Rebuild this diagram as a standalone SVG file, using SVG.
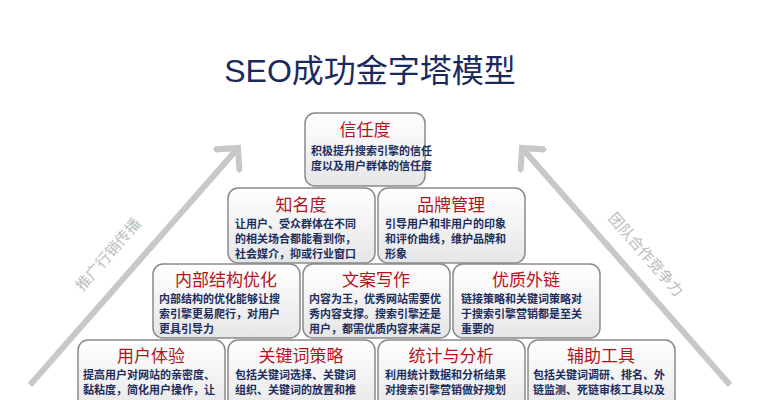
<svg xmlns="http://www.w3.org/2000/svg" width="761" height="400" viewBox="0 0 761 400">
<style>
.b{fill:url(#g);stroke:#8a8a8a;stroke-width:1.5}
.h{font-family:"Noto Sans CJK SC",sans-serif;font-size:17px;fill:#b5141c;text-anchor:middle}
.t{font-family:"Noto Sans CJK SC",sans-serif;font-size:11px;font-weight:bold;fill:#1c2d5e}
.a{font-family:"Noto Sans CJK SC",sans-serif;font-size:15px;fill:#bdbdbd;text-anchor:middle}
</style>
<defs>
<linearGradient id="g" x1="0" y1="0" x2="0" y2="1"><stop offset="0" stop-color="#ffffff"/><stop offset="1" stop-color="#e6e6e6"/></linearGradient>
<marker id="m" markerWidth="6" markerHeight="6" refX="3" refY="3" orient="auto" markerUnits="strokeWidth"><path d="M0,0 L3,3 L0,6" fill="none" stroke="#c8c8c8" stroke-width="1"/></marker>
</defs>
<rect width="761" height="400" fill="#fff"/>
<text x="370" y="82" font-family="'Liberation Sans','Noto Sans CJK SC',sans-serif" font-size="32" fill="#1b2a5c" text-anchor="middle">SEO成功金字塔模型</text>
<g id="connectors" stroke="#c8c8c8" stroke-width="6" fill="none">
<path d="M30,385 L238,148" marker-end="url(#m)"/>
<path d="M730,385 L522,148" marker-end="url(#m)"/>
</g>
<text class="a" transform="translate(112,258) rotate(-49)">推广行销传播</text>
<text class="a" transform="translate(642,258) rotate(49)">团队合作竞争力</text>
<g id="n1"><rect class="b" x="305" y="113" width="120" height="73" rx="10"/><text class="h" x="365" y="136">信任度</text><text class="t" x="311" y="155">积极提升搜索引擎的信任</text><text class="t" x="311" y="170">度以及用户群体的信任度</text></g>
<g id="n2"><rect class="b" x="228" y="188" width="147" height="75" rx="10"/><text class="h" x="301" y="211">知名度</text><text class="t" x="235" y="228">让用户、受众群体在不同</text><text class="t" x="235" y="243">的相关场合都能看到你，</text><text class="t" x="235" y="258">社会媒介，抑或行业窗口</text></g>
<g id="n3"><rect class="b" x="378" y="188" width="147" height="75" rx="10"/><text class="h" x="451" y="211">品牌管理</text><text class="t" x="385" y="228">引导用户和非用户的印象</text><text class="t" x="385" y="243">和评价曲线，维护品牌和</text><text class="t" x="385" y="258">形象</text></g>
<g id="n4"><rect class="b" x="153" y="264" width="147" height="74" rx="10"/><text class="h" x="226" y="286">内部结构优化</text><text class="t" x="159" y="303">内部结构的优化能够让搜</text><text class="t" x="159" y="318">索引擎更易爬行，对用户</text><text class="t" x="159" y="333">更具引导力</text></g>
<g id="n5"><rect class="b" x="303" y="264" width="147" height="74" rx="10"/><text class="h" x="376" y="286">文案写作</text><text class="t" x="309" y="303">内容为王，优秀网站需要优</text><text class="t" x="309" y="318">秀内容支撑。搜索引擎还是</text><text class="t" x="309" y="333">用户，都需优质内容来满足</text></g>
<g id="n6"><rect class="b" x="453" y="264" width="147" height="74" rx="10"/><text class="h" x="526" y="286">优质外链</text><text class="t" x="461" y="303">链接策略和关键词策略对</text><text class="t" x="461" y="318">于搜索引擎营销都是至关</text><text class="t" x="461" y="333">重要的</text></g>
<g id="n7"><rect class="b" x="78" y="340" width="147" height="75" rx="10"/><text class="h" x="151" y="362">用户体验</text><text class="t" x="83" y="379">提高用户对网站的亲密度、</text><text class="t" x="83" y="394">黏粘度，简化用户操作，让</text></g>
<g id="n8"><rect class="b" x="228" y="340" width="147" height="75" rx="10"/><text class="h" x="301" y="362">关键词策略</text><text class="t" x="235" y="379">包括关键词选择、关键词</text><text class="t" x="235" y="394">组织、关键词的放置和推</text></g>
<g id="n9"><rect class="b" x="378" y="340" width="147" height="75" rx="10"/><text class="h" x="451" y="362">统计与分析</text><text class="t" x="385" y="379">利用统计数据和分析结果</text><text class="t" x="385" y="394">对搜索引擎营销做好规划</text></g>
<g id="n10"><rect class="b" x="528" y="340" width="147" height="75" rx="10"/><text class="h" x="601" y="362">辅助工具</text><text class="t" x="533" y="379">包括关键词调研、排名、外</text><text class="t" x="533" y="394">链监测、死链审核工具以及</text></g>
</svg>
